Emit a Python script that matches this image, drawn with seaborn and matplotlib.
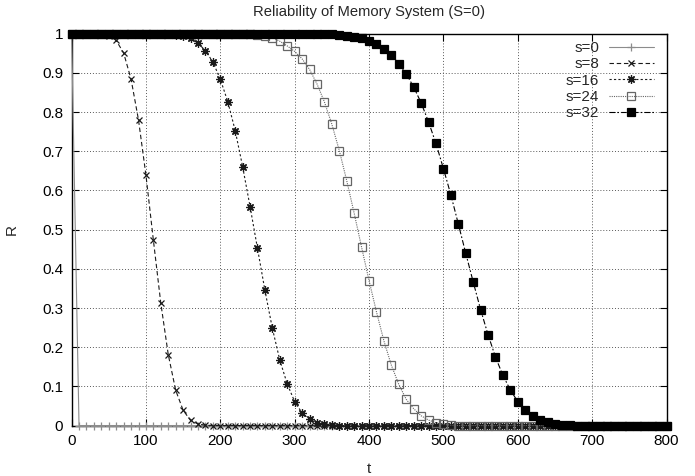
import matplotlib
matplotlib.use("Agg")
import matplotlib.pyplot as plt
from matplotlib.ticker import MultipleLocator, FuncFormatter
import pandas as pd
import seaborn as sns

# sample times (every 10 units of t)
t_vals = list(range(0, 810, 10))

# reliability, one list per s
r_s0 = [1.0] + [0.0] * 80
r_s8 = ([1.0] * 5 +
        [0.995, 0.983, 0.951, 0.884, 0.780, 0.639, 0.473, 0.312, 0.181, 0.090,
         0.039, 0.013, 0.004, 0.001] +
        [0.0] * 62)
r_s16 = ([1.0] * 14 +
         [0.998, 0.995, 0.989, 0.976, 0.957, 0.928, 0.884, 0.827, 0.753, 0.661,
          0.559, 0.452, 0.345, 0.248, 0.167, 0.106, 0.061, 0.032, 0.016, 0.007,
          0.003, 0.001] +
         [0.0] * 45)
r_s24 = ([1.0] * 25 +
         [0.998, 0.995, 0.990, 0.981, 0.969, 0.955, 0.936, 0.909, 0.872, 0.826,
          0.769, 0.702, 0.625, 0.542, 0.455, 0.370, 0.290, 0.216, 0.154, 0.105,
          0.067, 0.043, 0.025, 0.014, 0.007, 0.003, 0.001] +
         [0.0] * 29)
r_s32 = ([1.0] * 34 +
         [0.999, 0.999, 0.997, 0.995, 0.992, 0.989, 0.982, 0.974, 0.961, 0.946,
          0.924, 0.898, 0.864, 0.824, 0.775, 0.720, 0.656, 0.589, 0.515, 0.440,
          0.367, 0.296, 0.232, 0.175, 0.128, 0.091, 0.061, 0.040, 0.025, 0.015,
          0.008, 0.004, 0.002, 0.001] +
         [0.0] * 13)

labels = ["s=0", "s=8", "s=16", "s=24", "s=32"]
series = [r_s0, r_s8, r_s16, r_s24, r_s32]

# line styles per series, roughly like gnuplot's mono terminal
styles = {
    "s=0": dict(color="0.55", linestyle="-", marker="+", markersize=6),
    "s=8": dict(color="0.1", linestyle=(0, (4, 2.5)), marker="x", markersize=5),
    "s=16": dict(color="0.1", linestyle=(0, (2, 2)), marker=(8, 2, 0), markersize=6),
    "s=24": dict(color="0.4", linestyle=(0, (1, 1)), marker="s", markersize=5.5,
                 mfc="none"),
    "s=32": dict(color="black", linestyle=(0, (5, 2, 1.5, 2)), marker="s", markersize=5.5),
}

frames = []
for lab, vals in zip(labels, series):
    frames.append(pd.DataFrame({"t": t_vals, "R": vals, "s": lab}))
df = pd.concat(frames, ignore_index=True)

sns.set_style("ticks")
plt.rcParams["font.family"] = ["Liberation Sans", "DejaVu Sans"]
plt.rcParams["font.size"] = 11

fig = plt.figure(figsize=(6.95, 4.76), dpi=100)
ax = fig.add_axes([0.103, 0.106, 0.856, 0.823])

for lab in labels:
    st = styles[lab]
    # seaborn paints marker edges white by default, so set them to the line colour
    sns.lineplot(data=df[df["s"] == lab], x="t", y="R", ax=ax, label=lab,
                 linewidth=0.8, mec=st["color"], mew=0.9, clip_on=False,
                 zorder=3, **st)

ax.set_xlim(0, 800)
ax.set_ylim(0, 1)
ax.xaxis.set_major_locator(MultipleLocator(100))
ax.yaxis.set_major_locator(MultipleLocator(0.1))
ax.yaxis.set_major_formatter(FuncFormatter(lambda v, p: "%g" % round(v, 2)))
ax.tick_params(direction="in", length=5, width=0.8, top=True, right=True,
               labelsize=11, colors="black", pad=6)
ax.grid(True, color="0.35", linestyle=(0, (1, 2)), linewidth=0.7)
for sp in ax.spines.values():
    sp.set_visible(True)
    sp.set_color("black")
    sp.set_linewidth(1.0)

ax.set_title("Reliability of Memory System (S=0)", fontsize=10.6, pad=13)
ax.set_xlabel("t", fontsize=11, labelpad=10)
ax.set_ylabel("R", fontsize=11, labelpad=17)

ax.legend(loc="upper right", bbox_to_anchor=(0.995, 1.005), frameon=False,
          markerfirst=False, handlelength=3.0, labelspacing=0.15,
          handletextpad=0.6, fontsize=11, borderaxespad=0.2)

fig.savefig("out.png", dpi=100)
